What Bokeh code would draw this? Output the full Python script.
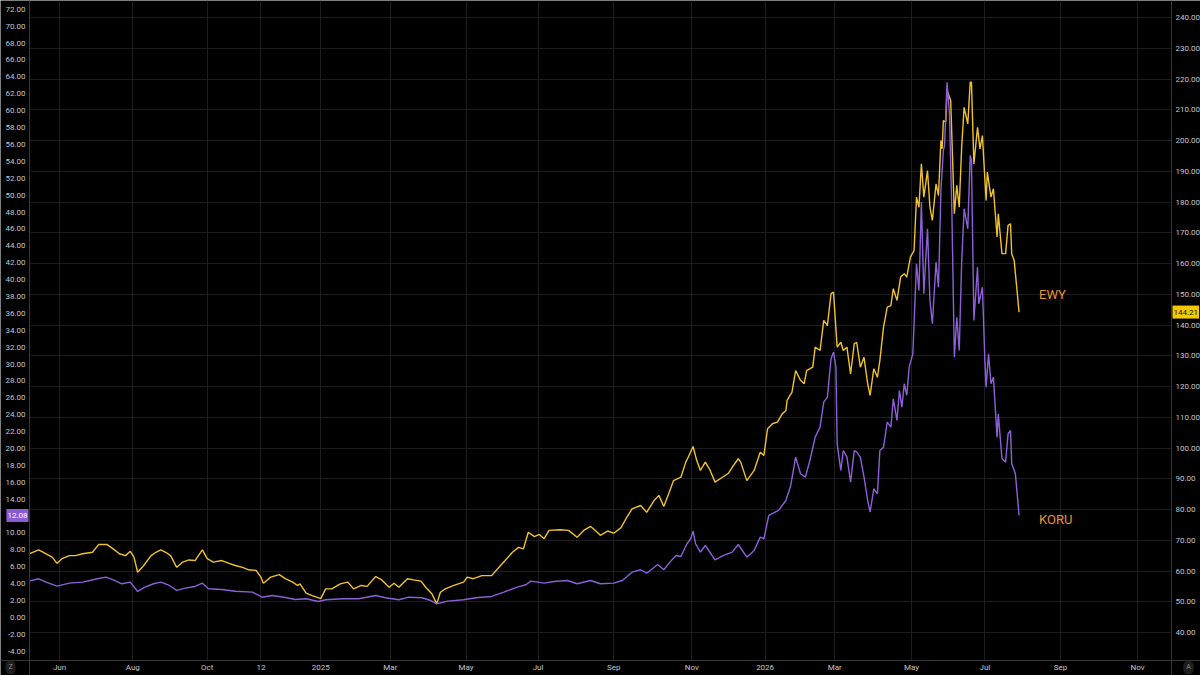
from bokeh.plotting import figure
from bokeh.models import Range1d, LinearAxis, FixedTicker, Grid, Label, NumeralTickFormatter
from bokeh.embed import file_html
from bokeh.resources import INLINE

# ---------------- data (days since 2024-06-01) ----------------
ewy_days = [-25, -17, -11, -6, -2, 2, 8, 13, 19, 27, 32, 39, 44, 49, 54, 58, 61, 64, 69, 75,
            79, 83, 87, 91, 96, 101, 106, 111, 117, 121, 126, 133, 139, 144, 150, 155, 161, 165, 167, 173,
            180, 185, 191, 195, 197, 202, 207, 214, 218, 223, 230, 236, 241, 247, 252, 259, 264, 270, 274, 278,
            285, 290, 296, 300, 305, 309, 312, 316, 323, 331, 334, 339, 346, 354, 360, 365, 371, 376, 380, 384,
            389, 393, 397, 401, 410, 417, 424, 430, 435, 439, 443, 449, 454, 460, 464, 469, 476, 481, 487, 491,
            495, 499, 503, 509, 513, 515, 519, 522, 525, 529, 533, 537, 543, 548, 552, 556, 558, 563, 569, 574,
            577, 580, 584, 588, 592, 595, 596, 600, 603, 607, 610, 612, 617, 619, 623, 626, 629, 632, 634, 637,
            640, 642, 645, 648, 651, 653, 656, 659, 662, 664, 667, 670, 672, 675, 678, 681, 683, 686, 689, 692,
            694, 697, 700, 702, 704, 706, 708, 711, 713, 715, 718, 720, 722, 723, 724, 726, 727, 730, 733, 735,
            737, 739, 741, 744, 746, 747, 749, 752, 754, 756, 759, 760, 763, 765, 768, 769, 772, 775, 777, 779,
            780, 782, 786]
ewy_close = [65.6, 66.9, 65.6, 64.5, 62.5, 64.0, 65.0, 65.0, 65.6, 66.1, 68.6, 68.6, 67.2, 65.6, 65.0, 66.4, 64.5, 59.6, 61.8, 65.0,
             66.1, 66.9, 66.1, 65.0, 61.2, 62.9, 63.6, 63.4, 66.9, 64.0, 62.9, 63.4, 62.5, 61.8, 61.2, 60.4, 60.2, 58.0, 56.0, 58.0,
             58.8, 57.5, 56.4, 55.3, 55.8, 52.8, 52.0, 51.0, 54.2, 54.2, 55.8, 56.4, 54.2, 55.3, 55.0, 58.2, 57.1, 54.7, 56.0, 54.7,
             57.5, 57.1, 56.7, 54.7, 52.6, 49.3, 53.1, 54.2, 55.3, 56.4, 58.0, 57.5, 58.5, 58.5, 61.2, 63.4, 66.1, 67.7, 67.2, 72.6,
             71.2, 71.9, 70.5, 73.2, 73.4, 73.2, 71.0, 73.4, 74.5, 73.2, 71.6, 73.0, 72.3, 74.1, 77.0, 80.2, 81.3, 79.1, 82.9, 84.6,
             81.0, 85.1, 89.4, 90.5, 95.4, 97.0, 100.5, 95.9, 92.7, 95.4, 92.7, 88.9, 90.5, 91.8, 94.3, 96.5, 95.4, 89.4, 92.7, 98.6,
             97.6, 106.3, 107.9, 108.4, 111.1, 112.2, 115.5, 118.2, 125.2, 122.0, 120.9, 125.2, 126.3, 132.8, 131.7, 141.5, 139.8, 150.2, 150.7, 132.8,
             134.4, 131.7, 132.8, 124.1, 133.9, 134.4, 126.3, 129.5, 120.9, 117.1, 125.8, 123.0, 128.5, 139.3, 145.8, 146.3, 151.8, 148.0, 155.6, 156.7,
             155.6, 162.1, 164.2, 181.6, 178.3, 192.4, 181.6, 190.2, 178.3, 174.0, 185.9, 182.1, 200.0, 197.3, 206.5, 206.0, 216.3, 213.0, 176.2, 185.4,
             178.3, 197.8, 210.8, 205.4, 219.0, 219.0, 192.4, 204.3, 197.3, 201.6, 180.5, 189.7, 181.6, 184.3, 168.6, 176.2, 163.2, 163.2, 172.4, 172.9,
             163.2, 161.0, 144.21]

koru_days = [-25, -17, -11, -2, 8, 19, 31, 38, 44, 51, 58, 64, 70, 77, 83, 90, 96, 103, 111, 117,
             122, 133, 144, 158, 166, 174, 184, 193, 202, 212, 218, 232, 245, 259, 267, 278, 286, 297, 304, 309,
             318, 331, 341, 354, 364, 375, 382, 386, 397, 405, 416, 424, 435, 443, 454, 461, 469, 476, 481, 490,
             495, 500, 505, 509, 514, 517, 519, 521, 525, 529, 537, 544, 551, 556, 563, 569, 574, 577, 581, 589,
             595, 599, 603, 607, 611, 615, 619, 623, 626, 629, 632, 634, 636, 637, 640, 642, 645, 648, 651, 653,
             656, 659, 662, 664, 667, 670, 672, 675, 678, 681, 683, 686, 688, 690, 692, 694, 696, 699, 702, 704,
             706, 708, 711, 713, 715, 718, 720, 722, 724, 725, 727, 729, 731, 733, 735, 737, 739, 741, 744, 746,
             747, 749, 752, 753, 756, 758, 759, 761, 763, 765, 768, 769, 772, 775, 777, 779, 780, 783, 786]
koru_close = [4.30, 4.58, 4.18, 3.71, 4.06, 4.18, 4.58, 4.77, 4.46, 3.99, 4.18, 3.08, 3.59, 3.99, 4.18, 3.79, 3.20, 3.47, 3.67, 4.06,
              3.40, 3.31, 3.11, 3.00, 2.40, 2.60, 2.40, 2.13, 2.21, 1.89, 2.10, 2.21, 2.21, 2.60, 2.33, 2.10, 2.40, 2.33, 2.01, 1.62,
              1.93, 2.10, 2.33, 2.49, 3.00, 3.59, 3.87, 4.30, 4.06, 4.26, 4.38, 3.99, 4.38, 3.99, 4.06, 4.38, 5.36, 5.65, 5.24, 6.27,
              5.65, 6.55, 7.34, 7.22, 8.73, 9.32, 10.22, 8.73, 7.73, 8.52, 6.83, 7.34, 7.73, 8.64, 7.14, 7.93, 9.51, 9.32, 12.08, 12.67,
              13.85, 15.63, 18.98, 17.01, 16.61, 18.79, 21.35, 22.53, 25.49, 26.08, 30.63, 31.41, 29.63, 20.56, 17.40, 19.77, 18.98, 16.02, 19.77, 19.57,
              18.98, 16.61, 13.85, 12.47, 15.24, 14.64, 19.77, 20.16, 23.12, 22.53, 25.89, 23.32, 26.87, 24.90, 27.67, 26.28, 29.63, 31.22, 41.87, 38.71,
              49.17, 38.32, 46.02, 37.53, 34.77, 42.06, 39.10, 50.55, 55.29, 55.88, 63.37, 59.63, 47.79, 30.82, 35.55, 31.61, 42.06, 48.39, 46.02, 54.70,
              54.10, 35.16, 41.47, 37.14, 39.10, 30.43, 27.27, 31.22, 27.67, 28.45, 21.35, 24.12, 18.79, 18.39, 21.75, 22.14, 18.20, 17.01, 12.08]

tick_days = [0, 60, 121, 165, 214, 271, 333, 392, 454, 518, 578, 635, 698, 758, 820, 883]
tick_labels = ["Jun", "Aug", "Oct", "12", "2025", "Mar", "May", "Jul", "Sep", "Nov",
               "2026", "Mar", "May", "Jul", "Sep", "Nov"]
koru_ticks = [t for t in range(-4, 73, 2) if t != 12]   # 12.00 is hidden by the last-price tag
ewy_ticks = list(range(40, 241, 10))

# ---------------- styling / geometry ----------------
BG = "#000000"
GRID = "#1c1c1c"
AXLINE = "#363636"
TXT = "#c3c6cc"
FONT = "Roboto"
EWY_COLOR = "#f0c22b"
KORU_COLOR = "#8d5fd9"
NAME_COLOR = "#e8922e"
W, H = 1200, 675
# the frame covers the whole canvas; the price scales sit at fixed positions
XR = (-48.33, 934.63)          # full canvas width in days
KR = (-6.87, 73.04)            # KORU scale over full canvas height
ER = (26.02, 245.53)           # EWY scale over full canvas height
X0, X1 = -24.57, 910.87        # plot-area edges (left / right price scales)
Y0 = -5.09                     # plot-area bottom (time scale)

p = figure(width=W, height=H, output_backend="svg", toolbar_location=None,
           x_range=Range1d(*XR), y_range=Range1d(*KR),
           x_axis_location=None, y_axis_location=None,
           min_border=0, min_border_left=0, min_border_right=0, min_border_top=0, min_border_bottom=0,
           background_fill_color=BG, border_fill_color=BG, outline_line_color=None)
p.extra_y_ranges = {"ewy": Range1d(*ER)}

# drop the default grids that figure() created
p.center = [r for r in p.center if not isinstance(r, Grid)]

left = LinearAxis(fixed_location=X0, ticker=FixedTicker(ticks=koru_ticks),
                  formatter=NumeralTickFormatter(format="0.00"))
right = LinearAxis(fixed_location=X1, y_range_name="ewy", ticker=FixedTicker(ticks=ewy_ticks),
                   formatter=NumeralTickFormatter(format="0.00"))
bottom = LinearAxis(fixed_location=Y0, ticker=FixedTicker(ticks=tick_days),
                    major_label_overrides={d: l for d, l in zip(tick_days, tick_labels)})
p.add_layout(left, "left")
p.add_layout(right, "right")
p.add_layout(bottom, "below")

for ax in [left, right, bottom]:
    ax.major_tick_line_color = None
    ax.minor_tick_line_color = None
    ax.major_tick_out = 0
    ax.major_tick_in = 0
    ax.minor_tick_out = 0
    ax.minor_tick_in = 0
    ax.axis_line_color = AXLINE
    ax.major_label_text_color = TXT
    ax.major_label_text_font = FONT
    ax.major_label_text_font_size = "8px"
left.major_label_standoff = 4
right.major_label_standoff = 4
bottom.major_label_standoff = 3

p.add_layout(Grid(dimension=0, ticker=FixedTicker(ticks=tick_days), cross_bounds=(Y0, KR[1]),
                  grid_line_color=GRID))
p.add_layout(Grid(dimension=1, ticker=FixedTicker(ticks=ewy_ticks), y_range_name="ewy",
                  cross_bounds=(X0, X1), grid_line_color=GRID))

p.line(ewy_days, ewy_close, y_range_name="ewy", line_color=EWY_COLOR, line_width=1.4)
p.line(koru_days, koru_close, line_color=KORU_COLOR, line_width=1.4)

# series names
p.add_layout(Label(x=ewy_days[-1], y=ewy_close[-1], y_range_name="ewy", x_offset=20, y_offset=18,
                   text="EWY", text_color=NAME_COLOR, text_font=FONT, text_font_size="13px",
                   text_baseline="middle", text_align="left"))
p.add_layout(Label(x=koru_days[-1], y=koru_close[-1], x_offset=20, y_offset=-4,
                   text="KORU", text_color=NAME_COLOR, text_font=FONT, text_font_size="13px",
                   text_baseline="middle", text_align="left"))

# last-price tags on the scales
p.add_layout(Label(x=X1, y=ewy_close[-1], y_range_name="ewy", x_offset=1,
                   text=f"{ewy_close[-1]:.2f}", text_color="#111111", text_font=FONT,
                   text_font_size="8px", text_baseline="middle", text_align="left",
                   background_fill_color="#f5c800", padding=(1, 4)))
p.add_layout(Label(x=X0, y=koru_close[-1], x_offset=-1,
                   text=f"{koru_close[-1]:.2f}", text_color="#ffffff", text_font=FONT,
                   text_font_size="8px", text_baseline="middle", text_align="right",
                   background_fill_color="#8a5bd4", padding=(1, 4)))

# scale-mode buttons in the corners
for xx, off, t in [(X0, -19, "Z"), (X1, 17, "A")]:
    p.add_layout(Label(x=xx, y=Y0, x_offset=off, y_offset=-7, text=t,
                       text_color="#8a8a8a", text_font=FONT, text_font_size="7px",
                       text_baseline="middle", text_align="center",
                       background_fill_color="#1e1e1e", padding=3, border_radius=6))

open("out.html", "w").write(file_html(p, INLINE))
